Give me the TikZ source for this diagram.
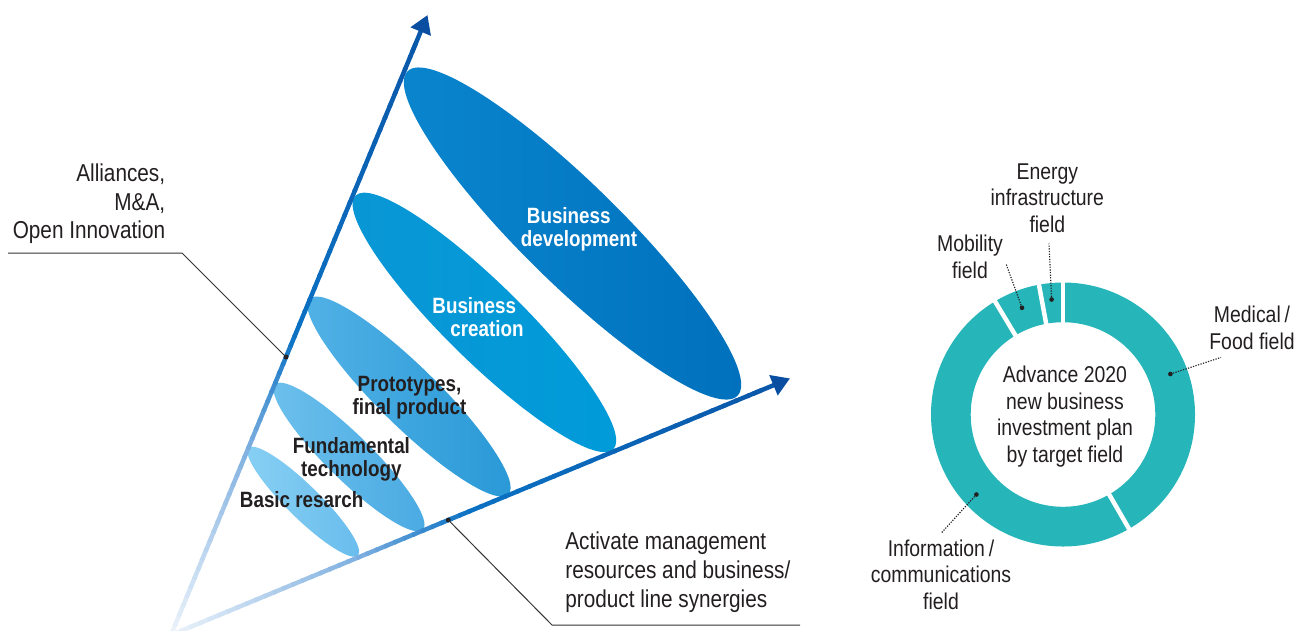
\documentclass[tikz,border=0pt]{standalone}
\usepackage{fontspec}
\setmainfont{Liberation Sans}[FakeStretch=0.85]
\usetikzlibrary{arrows.meta,calc,shapes.geometric}
\definecolor{txt}{HTML}{231F20}
\definecolor{ringc}{HTML}{26B5B9}
\definecolor{arlight}{HTML}{EEF4FB}
\definecolor{armid}{HTML}{7FB0E0}
\definecolor{arblue}{HTML}{0B72C4}
\definecolor{ardark}{HTML}{0A58AA}
\definecolor{arhead}{HTML}{0A4EA2}
\definecolor{leadc}{HTML}{333333}
\definecolor{eAa}{HTML}{0A86CE}\definecolor{eAb}{HTML}{0070BC}
\definecolor{eBa}{HTML}{0A96D5}\definecolor{eBb}{HTML}{009BD9}
\definecolor{eCa}{HTML}{52B2E6}\definecolor{eCb}{HTML}{2898D6}
\definecolor{eDa}{HTML}{6CC0EC}\definecolor{eDb}{HTML}{4AAAE2}
\definecolor{eEa}{HTML}{88D0F4}\definecolor{eEb}{HTML}{68BCEC}
\tikzset{
 shaft/.style={line width=2.55pt, line cap=butt},
 blob/.style={ellipse, inner sep=0pt, outer sep=0pt, rotate=-44.5, draw=none},
 blabel/.style={font=\fontsize{12.6pt}{13.3pt}\selectfont\bfseries, inner sep=0pt},
 lab/.style={font=\fontsize{13.9pt}{16.3pt}\selectfont, text=txt, inner sep=0pt},
 dlab/.style={font=\fontsize{13pt}{15.2pt}\selectfont, text=txt, inner sep=0pt, align=center},
 leader/.style={draw=leadc, line width=0.57pt},
 dotleader/.style={draw=txt, line width=0.65pt, dash pattern=on 0.7pt off 0.8pt},
 dotmark/.style={circle, fill=txt, inner sep=0pt, minimum size=2.8pt},
}
\begin{document}
\begin{tikzpicture}[x=0.02cm,y=-0.02cm]
\clip (0,0) rectangle (1308,630);
% ellipses
\node[blob, minimum width=263.4pt, minimum height=56.7pt, left color=eAa, right color=eAb] (e1) at (572.5,233.5) {};
\node[blob, minimum width=205.8pt, minimum height=44.2pt, left color=eBa, right color=eBb] (e2) at (484.4,322.4) {};
\node[blob, minimum width=158.7pt, minimum height=34pt, left color=eCa, right color=eCb] (e3) at (409,396.5) {};
\node[blob, minimum width=117.9pt, minimum height=25.5pt, left color=eDa, right color=eDb] (e4) at (349,457) {};
\node[blob, minimum width=87.3pt, minimum height=18.7pt, left color=eEa, right color=eEb] (e5) at (303.3,501.7) {};
% arrows
\coordinate (O) at (171,635);
\coordinate (T1) at (427.5,15);
\coordinate (T2) at (790,378.4);
\foreach \T in {T1,T2}{
  \foreach \i in {0,...,19}{
    \pgfmathsetmacro\ta{0.30*\i/20}
    \pgfmathsetmacro\tb{0.30*(\i+1)/20+0.004}
    \pgfmathsetmacro\p{100*(\i+0.5)/20}
    \draw[shaft, draw=armid!\p!arlight] ($(O)!\ta!(\T)$) -- ($(O)!\tb!(\T)$);
  }
  \foreach \i in {0,...,11}{
    \pgfmathsetmacro\ta{0.30+0.18*\i/12}
    \pgfmathsetmacro\tb{0.30+0.18*(\i+1)/12+0.004}
    \pgfmathsetmacro\p{100*(\i+0.5)/12}
    \draw[shaft, draw=arblue!\p!armid] ($(O)!\ta!(\T)$) -- ($(O)!\tb!(\T)$);
  }
  \foreach \i in {0,...,23}{
    \pgfmathsetmacro\ta{0.48+0.47*\i/24}
    \pgfmathsetmacro\tb{0.48+0.47*(\i+1)/24+0.004}
    \pgfmathsetmacro\p{100*(\i+0.5)/24}
    \draw[shaft, draw=ardark!\p!arblue] ($(O)!\ta!(\T)$) -- ($(O)!\tb!(\T)$);
  }
  \draw[shaft, draw=ardark, -{Triangle[length=10.2pt,width=11.9pt,color=arhead]}] ($(O)!0.94!(\T)$) -- (\T);
}
% ellipse labels
\node[blabel, text=white, align=left] (l1) at (579,229.3) {\hspace*{3.4pt}Business\\development};
\node[blabel, text=white, align=left] (l2) at (478,316.9) {Business\\\hspace*{10.2pt}creation};
\node[blabel, text=txt, align=center] (l3) at (409.5,397.5) {Prototypes,\\final product};
\node[blabel, text=txt, align=center] (l4) at (351.4,459.5) {Fundamental\\technology};
\node[blabel, text=txt] (l5) at (301.7,499.2) {Basic resarch};
% side labels with leaders
\node[lab, anchor=east, align=right] (la) at (165.5,204) {Alliances,\\M\&A,\\Open Innovation};
\coordinate (la1) at (8,253);
\coordinate (la2) at (182,253);
\node[dotmark] (d1) at (286,357) {};
\draw[leader] (la1) -- (la2) -- (d1.center);
\node[lab, anchor=west, align=left] (lb) at (565,572.3) {Activate management\\resources and business/\\product line synergies};
\node[dotmark] (d2) at (448.3,520) {};
\coordinate (lb1) at (552,625);
\coordinate (lb2) at (800,625);
\draw[leader] (d2.center) -- (lb1) -- (lb2);
% donut
\coordinate (C) at (1063,414.5);
\fill[ringc, even odd rule] (C) circle[radius=132] (C) circle[radius=92.3];
\foreach \a in {270,259.5,239,60}
  \draw[white, line width=2.55pt] ($(C)+(\a:90)$) -- ($(C)+(\a:134)$);
\node[dlab] (ctr) at (1065,416.7) {Advance 2020\\new business\\investment plan\\by target field};
\node[dlab] (lmed) at (1252,327.5) {Medical\thinspace/\\Food field};
\node[dlab] (lmob) at (970,256.6) {Mobility\\field};
\node[dlab] (len) at (1047.3,198.2) {Energy\\infrastructure\\field};
\node[dlab] (linf) at (941,574.8) {Information\thinspace/\\communications\\field};
\node[dotmark, minimum size=2.65pt] (dmed) at (1170.4,374) {};
\node[dotmark, minimum size=2.65pt] (dmob) at (1022,307.8) {};
\node[dotmark, minimum size=2.65pt] (den) at (1051.6,299.5) {};
\node[dotmark, minimum size=2.65pt] (dinf) at (976.4,494.5) {};
\coordinate (emed) at (1221,357.4);
\coordinate (emob) at (1006,263.7);
\coordinate (een) at (1049,243.6);
\coordinate (einf) at (941.3,533);
\draw[dotleader] (dmed.center) -- (emed);
\draw[dotleader] (dmob.center) -- (emob);
\draw[dotleader] (den.center) -- (een);
\draw[dotleader] (dinf.center) -- (einf);
\end{tikzpicture}
\end{document}
